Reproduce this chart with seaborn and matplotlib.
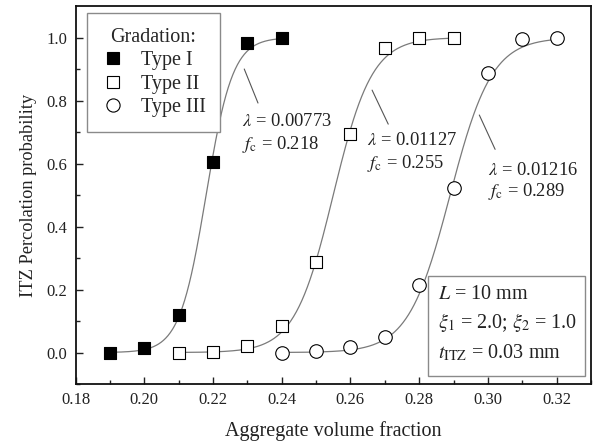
import numpy as np
import pandas as pd
import matplotlib
matplotlib.use("Agg")
import matplotlib.pyplot as plt
import seaborn as sns
from matplotlib.patches import Rectangle
from matplotlib.lines import Line2D

# Measured percolation probabilities for the three gradations
frac_I = [0.19, 0.20, 0.21, 0.22, 0.23, 0.24]
prob_I = [0.0, 0.014, 0.118, 0.606, 0.981, 1.0]
frac_II = [0.21, 0.22, 0.23, 0.24, 0.25, 0.26, 0.27, 0.28, 0.29]
prob_II = [0.0, 0.002, 0.020, 0.085, 0.287, 0.693, 0.966, 1.0, 1.0]
frac_III = [0.24, 0.25, 0.26, 0.27, 0.28, 0.29, 0.30, 0.31, 0.32]
prob_III = [0.0, 0.005, 0.016, 0.050, 0.213, 0.522, 0.886, 0.995, 1.0]

# Fitted sigmoid parameters (width lambda, threshold f_c)
lam = [0.00773, 0.01127, 0.01216]
fc = [0.218, 0.255, 0.289]
labels = ["Type I", "Type II", "Type III"]

x_ticks = [0.18, 0.20, 0.22, 0.24, 0.26, 0.28, 0.30, 0.32]
y_ticks = [0.0, 0.2, 0.4, 0.6, 0.8, 1.0]

sns.set_theme(style="ticks")
plt.rcParams["font.family"] = ["Liberation Serif", "DejaVu Serif"]
plt.rcParams["mathtext.fontset"] = "stix"
plt.rcParams["xtick.direction"] = "in"
plt.rcParams["ytick.direction"] = "in"

fig = plt.figure(figsize=(5.96, 4.45), dpi=100)
ax = fig.add_axes([0.1267, 0.137, 0.8649, 0.8495])

series = [(frac_I, prob_I), (frac_II, prob_II), (frac_III, prob_III)]
markers = ["s", "s", "o"]
faces = ["black", "white", "white"]
msizes = [72, 72, 95]

def sigmoid(f, l, c):
    return 0.5 * (1.0 + np.tanh((f - c) / l))

for (fx, py), l, c in zip(series, lam, fc):
    xs = np.linspace(min(fx), max(fx), 300)
    curve = pd.DataFrame({"f": xs, "p": sigmoid(xs, l, c)})
    sns.lineplot(data=curve, x="f", y="p", ax=ax, color="#7a7a7a",
                 linewidth=0.9, zorder=2)

for (fx, py), m, fcol, ms in zip(series, markers, faces, msizes):
    pts = pd.DataFrame({"f": fx, "p": py})
    sns.scatterplot(data=pts, x="f", y="p", ax=ax, marker=m, s=ms,
                    facecolor=fcol, edgecolor="black", linewidth=0.8,
                    zorder=3)

ax.set_xlim(0.18, 0.33)
ax.set_ylim(-0.1, 1.1)
ax.set_xticks(x_ticks)
ax.set_xticklabels([f"{v:.2f}" for v in x_ticks])
ax.set_yticks(y_ticks)
ax.set_yticklabels([f"{v:.1f}" for v in y_ticks])
ax.set_xticks(np.arange(0.19, 0.33, 0.02), minor=True)
ax.set_yticks(np.arange(-0.1, 1.05, 0.2), minor=True)
ax.tick_params(which="major", length=5, width=1.0, labelsize=12, pad=6,
               colors="#222222", labelcolor="#222222")
ax.tick_params(which="minor", length=3, width=1.0, colors="#222222")
ax.tick_params(top=False, right=False)
for sp in ax.spines.values():
    sp.set_linewidth(1.3)
    sp.set_color("#111111")

ax.set_xlabel("Aggregate volume fraction", fontsize=14.5, labelpad=9,
              color="#222222")
ax.set_ylabel("ITZ Percolation probability", fontsize=13.2, labelpad=7,
              color="#222222")

# Legend
handles = [Line2D([], [], linestyle="none", marker=m, markersize=8.5 if m == "s" else 9.5,
                  markerfacecolor=fcol, markeredgecolor="black", markeredgewidth=0.8)
           for m, fcol in zip(markers, faces)]
leg = ax.legend(handles, labels, title="Gradation:", loc="upper left",
                bbox_to_anchor=(0.022, 0.981), borderaxespad=0,
                fontsize=14.5, title_fontsize=14.5, frameon=True,
                fancybox=False, edgecolor="#8a8a8a", framealpha=1,
                handlelength=1.2, handletextpad=0.75, labelspacing=0.22,
                borderpad=0.72)
leg.get_frame().set_linewidth(1.0)

# Fit annotations: leader lines and parameter labels
lead = [((0.2291, 0.900), (0.2331, 0.792)),
        ((0.2663, 0.833), (0.2710, 0.725)),
        ((0.2975, 0.754), (0.3021, 0.645))]
txt_pos = [(0.2285, 0.734, 0.661), (0.2649, 0.674, 0.601), (0.3001, 0.579, 0.510)]
for (p0, p1), (tx, ty1, ty2), l, c in zip(lead, txt_pos, lam, fc):
    ax.plot([p0[0], p1[0]], [p0[1], p1[1]], color="#555555", linewidth=0.8)
    ax.text(tx, ty1, rf"$\lambda$ = {l:.5f}", fontsize=13.3, va="center",
            ha="left", color="#222222")
    ax.text(tx, ty2, rf"$f_{{\mathrm{{c}}}}$ = {c:.3f}", fontsize=13.3,
            va="center", ha="left", color="#222222")

# Simulation settings box
ax.add_patch(Rectangle((0.684, 0.021), 0.304, 0.265, transform=ax.transAxes,
                       facecolor="white", edgecolor="#8a8a8a", linewidth=1.0,
                       zorder=4))
info = [r"$L$ = 10 mm", r"$\xi_1$ = 2.0; $\xi_2$ = 1.0",
        r"$t_{\mathrm{ITZ}}$ = 0.03 mm"]
for s, yy in zip(info, [0.236, 0.164, 0.082]):
    ax.text(0.703, yy, s, transform=ax.transAxes, fontsize=14.5,
            va="center", ha="left", color="#222222", zorder=5)

fig.savefig("out.png", dpi=100)
